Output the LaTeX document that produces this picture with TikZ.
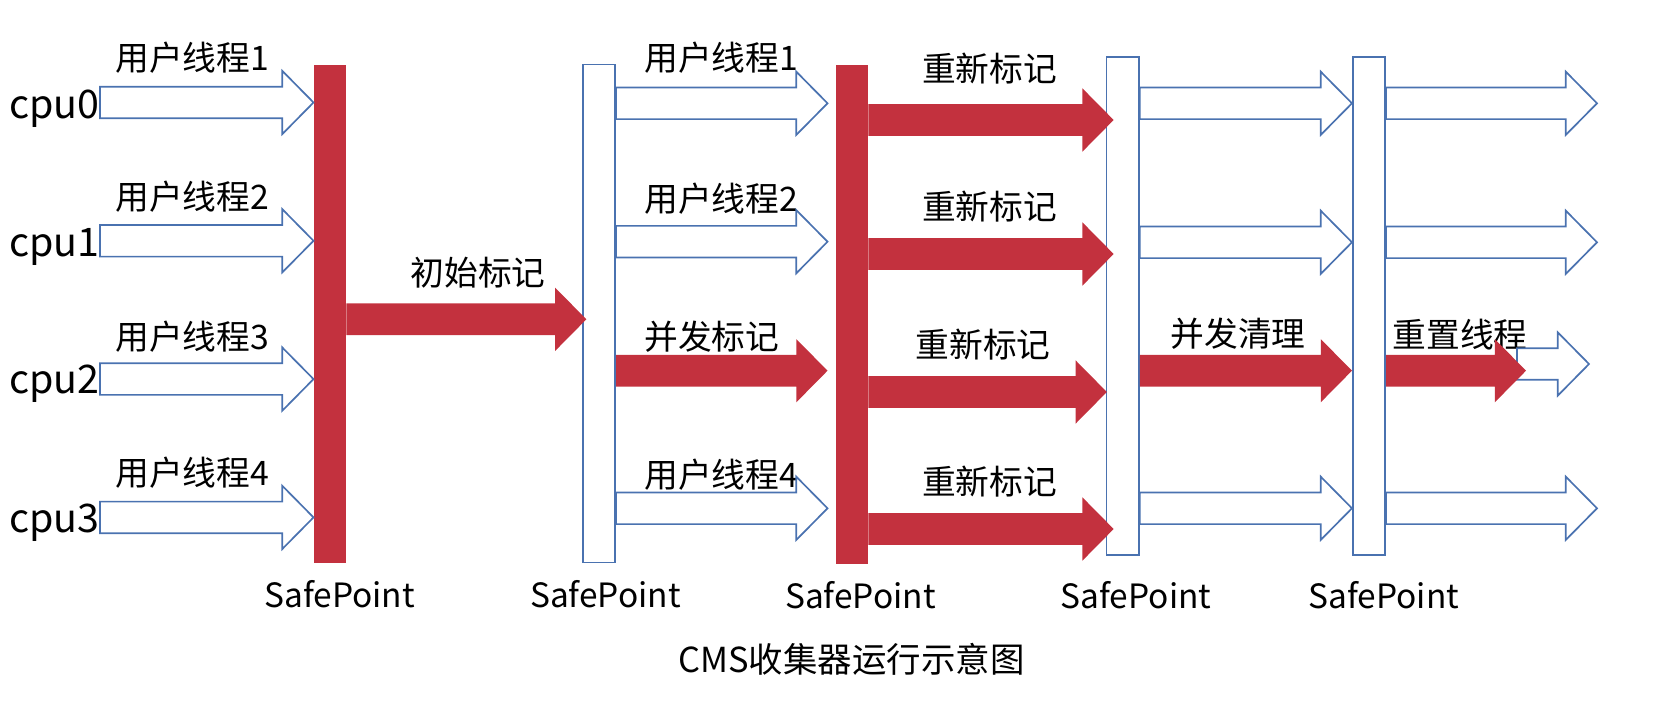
\documentclass[tikz,border=0pt]{standalone}
\usepackage{fontspec}
\setmainfont{Noto Sans CJK SC}
\usepackage{tikz}
\usetikzlibrary{positioning,calc}

\definecolor{cmsred}{RGB}{195,49,62}
\definecolor{cmsblue}{RGB}{74,114,176}
\newcommand{\arrshaft}{0.395cm}
\newcommand{\arrhead}{0.79cm}
\newcommand{\arrtip}{0.78cm}
% fat arrow from x of #2 to x of #3, at height #4
\newcommand{\blockarrow}[4]{%
  \path[#1] let \p1=(#2), \p2=(#3), \p3=(0,#4) in
    (\x1,{\y3+\arrshaft}) -- ({\x2-\arrtip},{\y3+\arrshaft})
    -- ({\x2-\arrtip},{\y3+\arrhead}) -- (\x2,\y3)
    -- ({\x2-\arrtip},{\y3-\arrhead}) -- ({\x2-\arrtip},{\y3-\arrshaft})
    -- (\x1,{\y3-\arrshaft}) -- cycle;}

\begin{document}
\begin{tikzpicture}[%
  x=0.025cm,
  y=-0.025cm,
  gcbar/.style={fill=cmsred, inner sep=0pt,
    minimum width=0.81cm, minimum height=12.45cm},
  userbar/.style={draw=cmsblue, fill=white, line width=1.2pt, inner sep=0pt,
    minimum width=0.81cm, minimum height=12.45cm},
  gcarrow/.style={fill=cmsred},
  userarrow/.style={draw=cmsblue, fill=white, line width=1.2pt},
  lbl/.style={inner sep=0pt, font=\fontsize{24}{28}\selectfont},
  cpulbl/.style={inner sep=0pt, anchor=east, font=\fontsize{28}{32}\selectfont},
  splbl/.style={inner sep=0pt, font=\fontsize{23.8}{28}\selectfont},
  ]
  \useasboundingbox (0,0) rectangle (1675,701);
  %% Nodes
  \node[gcbar] (sp1) at (330,314) {};
  \node[userbar] (sp2) at (599,313.5) {};
  \node[gcbar] (sp3) at (852,314.5) {};
  \node[userbar] (sp4) at (1122.7,306) {};
  \node[userbar] (sp5) at (1369,306) {};
  \coordinate (out) at (1597,306);
  \coordinate (rst) at (1526,370.7);

  \node[cpulbl] (cpu0) at (100,108.5) {cpu0};
  \node[cpulbl] (cpu1) at (100,247) {cpu1};
  \node[cpulbl] (cpu2) at (100,384) {cpu2};
  \node[cpulbl] (cpu3) at (100,522.5) {cpu3};

  \node[lbl, anchor=west] (ut1) at (115,58) {用户线程1};
  \node[lbl, anchor=west] (ut2) at (115,196.7) {用户线程2};
  \node[lbl, anchor=west] (ut3) at (115,336.7) {用户线程3};
  \node[lbl, anchor=west] (ut4) at (115,473) {用户线程4};
  \node[lbl] (init) at (478,273) {初始标记};
  \node[lbl, anchor=west] (vt1) at (644,58) {用户线程1};
  \node[lbl, anchor=west] (vt2) at (644,199) {用户线程2};
  \node[lbl, anchor=west] (conc) at (644,336.7) {并发标记};
  \node[lbl, anchor=west] (vt4) at (644,475) {用户线程4};
  \node[lbl] (re1) at (989.7,69) {重新标记};
  \node[lbl] (re2) at (989.7,206.7) {重新标记};
  \node[lbl] (re3) at (983,345) {重新标记};
  \node[lbl] (re4) at (989.7,482) {重新标记};
  \node[lbl] (sweep) at (1238,334) {并发清理};
  \node[lbl] (reset) at (1460,335) {重置线程};

  \node[splbl, below=0.42cm of sp1, xshift=0.24cm] (spl1) {SafePoint};
  \node[splbl, below=0.42cm of sp2, xshift=0.16cm] (spl2) {SafePoint};
  \node[splbl, below=0.42cm of sp3, xshift=0.21cm] (spl3) {SafePoint};
  \node[splbl, below=0.62cm of sp4, xshift=0.33cm] (spl4) {SafePoint};
  \node[splbl, below=0.62cm of sp5, xshift=0.37cm] (spl5) {SafePoint};
  \node[inner sep=0pt, font=\fontsize{24.5}{30}\selectfont] (title) at (851.5,659)
    {CMS收集器运行示意图};
  %% Edges
  \blockarrow{userarrow}{cpu0.east}{sp1.west}{102.5}
  \blockarrow{userarrow}{cpu1.east}{sp1.west}{240.8}
  \blockarrow{userarrow}{cpu2.east}{sp1.west}{379.1}
  \blockarrow{userarrow}{cpu3.east}{sp1.west}{517.4}
  \blockarrow{gcarrow}{sp1.east}{[xshift=0.11cm]sp2.west}{319.3}
  \blockarrow{userarrow}{sp2.east}{[xshift=-0.2cm]sp3.west}{103.3}
  \blockarrow{userarrow}{sp2.east}{[xshift=-0.2cm]sp3.west}{241.7}
  \blockarrow{gcarrow}{sp2.east}{[xshift=-0.2cm]sp3.west}{370.7}
  \blockarrow{userarrow}{sp2.east}{[xshift=-0.2cm]sp3.west}{508.3}
  \blockarrow{gcarrow}{sp3.east}{[xshift=0.2cm]sp4.west}{120}
  \blockarrow{gcarrow}{sp3.east}{[xshift=0.2cm]sp4.west}{254}
  \blockarrow{gcarrow}{sp3.east}{[xshift=0.03cm]sp4.west}{392}
  \blockarrow{gcarrow}{sp3.east}{[xshift=0.2cm]sp4.west}{529}
  \blockarrow{userarrow}{sp4.east}{sp5.west}{103.3}
  \blockarrow{userarrow}{sp4.east}{sp5.west}{242.3}
  \blockarrow{gcarrow}{sp4.east}{sp5.west}{370.7}
  \blockarrow{userarrow}{sp4.east}{sp5.west}{508.3}
  \blockarrow{userarrow}{sp5.east}{out}{103.3}
  \blockarrow{userarrow}{sp5.east}{out}{242.3}
  \blockarrow{userarrow}{[xshift=-0.225cm]rst}{[xshift=-0.2cm]out}{364}
  \blockarrow{gcarrow}{sp5.east}{rst}{370.7}
  \blockarrow{userarrow}{sp5.east}{out}{508.3}
\end{tikzpicture}
\end{document}
